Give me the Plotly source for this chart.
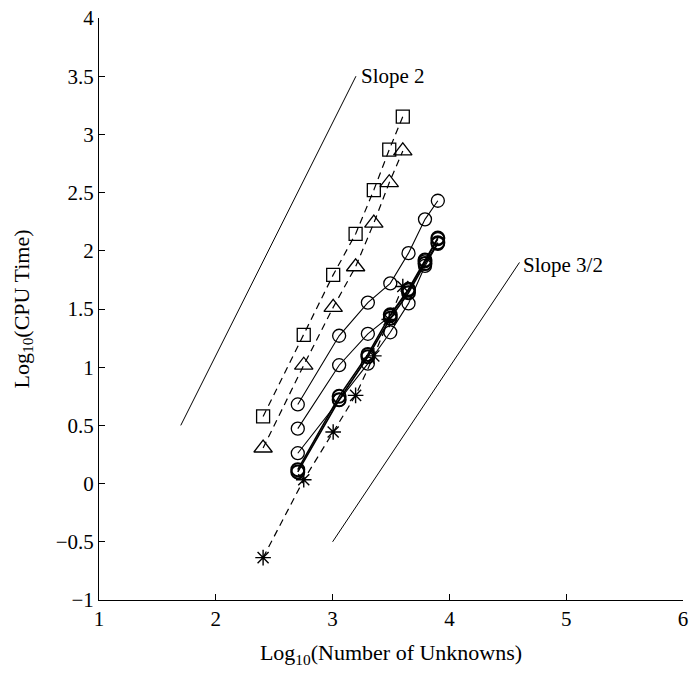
import plotly.graph_objects as go

# ---- data (log10 values) ----
x_dash = [2.405, 2.753, 3.005, 3.197, 3.353, 3.485, 3.601]
sq_y = [0.577, 1.278, 1.793, 2.145, 2.522, 2.869, 3.153]
tri_y = [0.306, 1.017, 1.514, 1.863, 2.238, 2.585, 2.858]
star_y = [-0.636, 0.033, 0.443, 0.758, 1.097, 1.41, 1.693]

x_circ = [2.702, 3.056, 3.302, 3.494, 3.650, 3.791, 3.901]
circA_y = [0.68, 1.27, 1.555, 1.72, 1.98, 2.27, 2.43]
circB_y = [0.472, 1.017, 1.287, 1.44, 1.66, 1.91, 2.10]
circC_y = [0.261, 0.72, 1.03, 1.30, 1.548, 1.87, 2.06]
circD_y = [0.12, 0.75, 1.11, 1.45, 1.67, 1.92, 2.11]
circE_y = [0.10, 0.72, 1.09, 1.42, 1.64, 1.89, 2.07]

slope2_x = [1.7, 3.2]
slope2_y = [0.5, 3.5]
slope32_x = [3.0, 4.6]
slope32_y = [-0.5, 1.9]

x_ticks = [1, 2, 3, 4, 5, 6]
y_ticks = [-1, -0.5, 0, 0.5, 1, 1.5, 2, 2.5, 3, 3.5, 4]

FONT = "Liberation Serif"
K = "black"
DASH = "7px,5px"

fig = go.Figure()

# reference slope lines
fig.add_trace(go.Scatter(x=slope2_x, y=slope2_y, mode="lines",
                         line=dict(color=K, width=1)))
fig.add_trace(go.Scatter(x=slope32_x, y=slope32_y, mode="lines",
                         line=dict(color=K, width=1)))

# dashed series
fig.add_trace(go.Scatter(x=x_dash, y=star_y, mode="lines+markers",
                         line=dict(color=K, width=1.2, dash=DASH),
                         marker=dict(symbol="asterisk-open", size=13,
                                     line=dict(color=K, width=1.4))))
fig.add_trace(go.Scatter(x=x_dash, y=tri_y, mode="lines+markers",
                         line=dict(color=K, width=1.2, dash=DASH),
                         marker=dict(symbol="triangle-up-open", size=16, color=K,
                                     line=dict(color=K, width=1.3))))
fig.add_trace(go.Scatter(x=x_dash, y=sq_y, mode="lines+markers",
                         line=dict(color=K, width=1.2, dash=DASH),
                         marker=dict(symbol="square-open", size=13, color=K,
                                     line=dict(color=K, width=1.3))))

# solid circle series
for i, ys in enumerate([circA_y, circB_y, circC_y, circD_y, circE_y]):
    bold = i >= 3
    fig.add_trace(go.Scatter(x=x_circ, y=ys, mode="lines+markers",
                             line=dict(color=K, width=1.6 if bold else 1.1),
                             marker=dict(symbol="circle-open", size=13, color=K,
                                         line=dict(color=K, width=2.0 if bold else 1.3))))

fig.add_annotation(x=3.228, y=3.50, text="Slope 2", showarrow=False,
                   xanchor="left", yanchor="middle",
                   font=dict(family=FONT, size=21, color=K))
fig.add_annotation(x=4.61, y=1.88, text="Slope 3/2", showarrow=False,
                   xanchor="left", yanchor="middle",
                   font=dict(family=FONT, size=21, color=K))

axis_common = dict(showline=True, linecolor=K, linewidth=1, ticks="inside",
                   ticklen=6, tickcolor=K, tickwidth=1, showgrid=False,
                   zeroline=False, mirror=False, ticklabeloverflow="allow",
                   tickfont=dict(family=FONT, size=21, color=K))

fig.update_layout(
    width=694, height=677,
    margin=dict(l=99, r=6, t=13, b=77),
    paper_bgcolor="white", plot_bgcolor="white",
    showlegend=False,
    xaxis=dict(range=[1, 6], tickvals=x_ticks,
               ticktext=[str(v) for v in x_ticks],
               title=dict(text="Log<sub>10</sub>(Number of Unknowns)",
                          font=dict(family=FONT, size=22, color=K), standoff=14),
               **axis_common),
    yaxis=dict(range=[-1, 4], tickvals=y_ticks,
               ticktext=[("\u2212" + f"{-v:g}") if v < 0 else f"{v:g}" for v in y_ticks],
               title=dict(text="Log<sub>10</sub>(CPU Time)",
                          font=dict(family=FONT, size=22, color=K), standoff=20),
               **axis_common),
)

fig.write_html("out.html")
